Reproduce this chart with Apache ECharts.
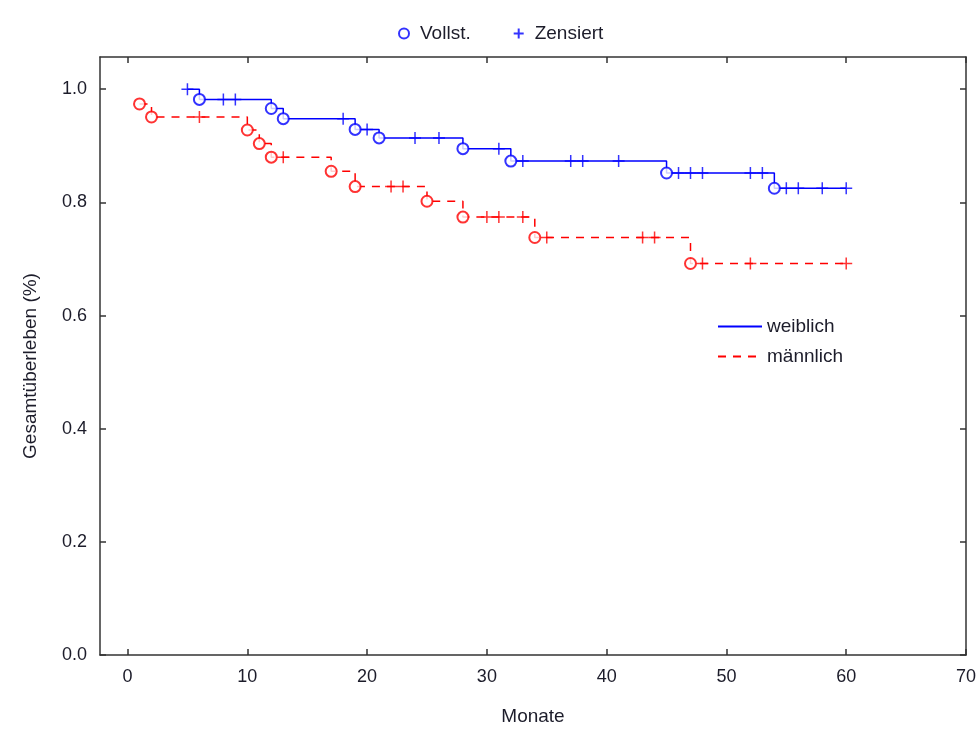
<!DOCTYPE html>
<html><head><meta charset="utf-8">
<script src="https://cdn.jsdelivr.net/npm/echarts@6/dist/echarts.min.js"></script>
<style>html,body{margin:0;padding:0;background:#fff}#c{width:979px;height:735px}</style>
</head><body><div id="c"></div>
<script>
// weiblich (female)
const monthsW = [5,6,8,9,12,13,18,19,20,21,24,26,28,31,32,33,37,38,41,45,46,47,48,52,53,54,55,56,58,60];
const survW = [1.0,0.982,0.982,0.982,0.966,0.948,0.948,0.929,0.929,0.914,0.914,0.914,0.895,0.895,0.873,0.873,0.873,0.873,0.873,0.852,0.852,0.852,0.852,0.852,0.852,0.825,0.825,0.825,0.825,0.825];
const statusW = [0,1,0,0,1,1,0,1,0,1,0,0,1,0,1,0,0,0,0,1,0,0,0,0,0,1,0,0,0,0]; // 1 = Vollst., 0 = Zensiert
// männlich (male)
const monthsM = [1,2,6,10,11,12,13,17,19,22,23,25,28,30,31,33,34,35,43,44,47,48,52,60];
const survM = [0.974,0.951,0.951,0.928,0.904,0.880,0.880,0.855,0.828,0.828,0.828,0.802,0.774,0.774,0.774,0.774,0.738,0.738,0.738,0.738,0.692,0.692,0.692,0.692];
const statusM = [1,1,0,1,1,1,0,1,1,0,0,1,1,0,0,0,1,0,0,0,1,0,0,0];
const xTicks = [0,10,20,30,40,50,60,70];
const yTicks = [0,0.2,0.4,0.6,0.8,1.0];
const seriesNames = ['weiblich','männlich'];
const markerNames = ['Vollst.','Zensiert'];

const FONT = 'Liberation Sans, Arial, sans-serif';
const BLUE = '#0000ff', RED = '#ff0000', AX = '#333', TXT = '#1c1c2a';
const PLUS = 'path://M0,-1L0,1M-1,0L1,0';

function pts(m, s){ return m.map((t,i)=>[t, s[i]]); }
function sel(m, s, st, flag){ return m.map((t,i)=>[t, s[i], st[i]]).filter(d=>d[2]===flag).map(d=>[d[0], d[1]]); }

const chart = echarts.init(document.getElementById('c'), null, {renderer:'canvas'});
const axisCommon = {
  type:'value', splitLine:{show:false},
  axisLine:{show:true, onZero:false, lineStyle:{color:AX, width:1.5}},
};
chart.setOption({
  animation:false,
  textStyle:{fontFamily:FONT},
  grid:{left:100, right:7, top:57, bottom:80, containLabel:false},
  legend:[
    {data:markerNames, left:393, top:19, itemWidth:10, itemHeight:10, itemGap:42,
     textStyle:{fontSize:19, color:TXT, fontFamily:FONT, padding:[0,0,0,6]}},
    {data:seriesNames, left:712, top:312, orient:'vertical', itemWidth:44, itemHeight:14, itemGap:11,
     itemStyle:{opacity:0},
     textStyle:{fontSize:19, color:TXT, fontFamily:FONT}}
  ],
  xAxis:[
    Object.assign({}, axisCommon, {min:-2.3, max:70, position:'bottom',
      axisTick:{show:true, inside:true, length:6, customValues:xTicks, lineStyle:{color:AX, width:1.5}},
      axisLabel:{customValues:xTicks, fontSize:18, color:TXT, margin:13, fontFamily:FONT},
      name:'Monate', nameLocation:'middle', nameGap:52,
      nameTextStyle:{fontSize:19, color:TXT, fontFamily:FONT}}),
    Object.assign({}, axisCommon, {min:-2.3, max:70, position:'top',
      axisTick:{show:true, inside:true, length:6, customValues:xTicks, lineStyle:{color:AX, width:1.5}},
      axisLabel:{show:false}})
  ],
  yAxis:[
    Object.assign({}, axisCommon, {min:0, max:1.057, position:'left',
      axisTick:{show:true, inside:true, length:6, customValues:yTicks, lineStyle:{color:AX, width:1.5}},
      axisLabel:{customValues:yTicks, fontSize:18, color:TXT, margin:13, fontFamily:FONT,
        formatter:v=>v.toFixed(1)},
      name:'Gesamtüberleben (%)', nameLocation:'middle', nameGap:60, nameRotate:90,
      nameTextStyle:{fontSize:19, color:TXT, fontFamily:FONT, padding:[0,0,0,-20]}}),
    Object.assign({}, axisCommon, {min:0, max:1.057, position:'right',
      axisTick:{show:true, inside:true, length:6, customValues:yTicks, lineStyle:{color:AX, width:1.5}},
      axisLabel:{show:false}})
  ],
  series:[
    {name:seriesNames[0], type:'line', step:'end', data:pts(monthsW, survW), showSymbol:false,
     lineStyle:{color:BLUE, width:1.5, type:'solid'}, itemStyle:{color:BLUE}, z:2},
    {name:seriesNames[1], type:'line', step:'end', data:pts(monthsM, survM), showSymbol:false,
     lineStyle:{color:RED, width:1.5, type:[8,7]}, itemStyle:{color:RED}, z:2},
    {name:markerNames[0], type:'scatter', data:sel(monthsW, survW, statusW, 1), symbol:'emptyCircle', symbolSize:11,
     itemStyle:{color:BLUE, borderWidth:1.5}, z:3},
    {name:markerNames[1], type:'scatter', data:sel(monthsW, survW, statusW, 0), symbol:PLUS, symbolSize:12,
     itemStyle:{color:BLUE, borderColor:BLUE, borderWidth:1.5}, z:3},
    {name:markerNames[0], type:'scatter', data:sel(monthsM, survM, statusM, 1), symbol:'emptyCircle', symbolSize:11,
     itemStyle:{color:RED, borderWidth:1.5}, z:3},
    {name:markerNames[1], type:'scatter', data:sel(monthsM, survM, statusM, 0), symbol:PLUS, symbolSize:12,
     itemStyle:{color:RED, borderColor:RED, borderWidth:1.5}, z:3}
  ]
});
</script></body></html>
